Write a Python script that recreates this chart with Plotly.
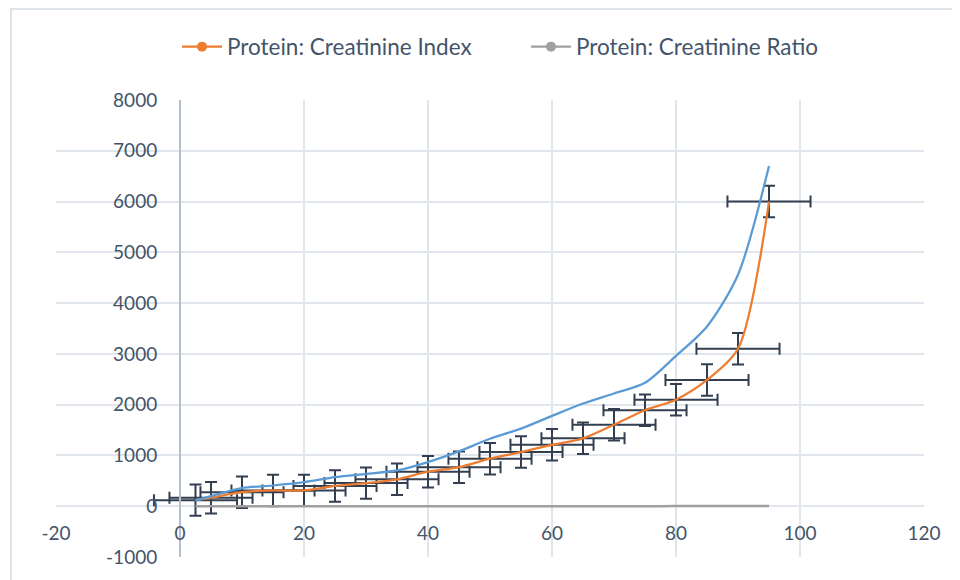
import plotly.graph_objects as go

# ---- data ----
percentile = [2.5, 5, 10, 15, 20, 25, 30, 35, 40, 45, 50, 55, 60, 65, 70, 75, 80, 85, 90, 95]
index_vals = [120, 168, 277, 310, 312, 400, 455, 530, 680, 768, 936, 1067, 1209, 1337, 1605, 1891, 2099, 2487, 3100, 6000]
blue_vals = [115, 200, 356, 408, 474, 573, 638, 705, 870, 1080, 1330, 1528, 1779, 2022, 2220, 2430, 2960, 3540, 4560, 6700]
ratio_vals = [0.12, 0.17, 0.28, 0.31, 0.31, 0.40, 0.46, 0.53, 0.68, 0.77, 0.94, 1.07, 1.21, 1.34, 1.61, 1.89, 2.10, 2.49, 3.10, 6.00]
x_err = 6.7
y_err = 310

x_tickvals = [-20, 0, 20, 40, 60, 80, 100, 120]
x_ticktext = ["-20", "0", "20", "40", "60", "80", "100", "120"]
y_tickvals = [-1000, 0, 1000, 2000, 3000, 4000, 5000, 6000, 7000, 8000]
y_ticktext = ["-1000", "0", "1000", "2000", "3000", "4000", "5000", "6000", "7000", "8000"]

ORANGE = "#ED7D31"
BLUE = "#5B9BD5"
GRAY = "#A0A0A0"
ERR = "#333F50"
TXT = "#44546A"
GRID = "#E1E5EC"
FONT = "Lato"

# plot area in figure pixels
L, R, T, B = 48, 916, 92, 549
W, H = R - L, B - T

fig = go.Figure()

fig.add_trace(go.Scatter(
    x=percentile, y=index_vals, mode="lines",
    line=dict(color=ORANGE, width=2.25, shape="spline", smoothing=0.8),
    error_x=dict(type="constant", value=x_err, color=ERR, thickness=2, width=6),
    error_y=dict(type="constant", value=y_err, color=ERR, thickness=2, width=6),
    showlegend=False, hoverinfo="skip",
))
fig.add_trace(go.Scatter(
    x=percentile, y=blue_vals, mode="lines",
    line=dict(color=BLUE, width=2.25, shape="spline", smoothing=0.8),
    showlegend=False, hoverinfo="skip",
))
fig.add_trace(go.Scatter(
    x=percentile, y=ratio_vals, mode="lines",
    line=dict(color=GRAY, width=2.5, shape="spline"),
    showlegend=False, hoverinfo="skip",
))
fig.add_trace(go.Scatter(
    x=[None], y=[None], mode="lines+markers", name="Protein: Creatinine Index",
    line=dict(color=ORANGE, width=2.25), marker=dict(color=ORANGE, size=10),
    legend="legend",
))
fig.add_trace(go.Scatter(
    x=[None], y=[None], mode="lines+markers", name="Protein: Creatinine Ratio",
    line=dict(color=GRAY, width=2.25), marker=dict(color=GRAY, size=10),
    legend="legend2",
))

fig.add_shape(type="rect", xref="paper", yref="paper",
              x0=(3 - L) / W, x1=(1000 - L) / W,
              y0=(B - 620) / H, y1=(B - 1) / H,
              line=dict(color="#DEE3EA", width=2), layer="below")

legend_common = dict(orientation="h", yanchor="middle", y=(B - 39) / H, xanchor="left",
                     font=dict(size=22.5, color=TXT), itemwidth=40, bgcolor="rgba(0,0,0,0)")

fig.update_layout(
    width=960, height=580,
    margin=dict(l=L, r=960 - R, t=T, b=580 - B),
    paper_bgcolor="white", plot_bgcolor="white",
    font=dict(family=FONT, color=TXT, size=19),
    legend=dict(x=(177 - 8 - L) / W, **legend_common),
    legend2=dict(x=(526 - 8 - L) / W, **legend_common),
    xaxis=dict(range=[-20, 120], tickvals=x_tickvals, ticktext=x_ticktext,
               showgrid=True, gridcolor=GRID, gridwidth=1.5, zeroline=False,
               showline=False, anchor="free", position=1 / 9,
               ticks="", ticklabelstandoff=14, tickfont=dict(size=19, color=TXT)),
    yaxis=dict(range=[-1000, 8000], tickvals=y_tickvals, ticktext=y_ticktext,
               showgrid=True, gridcolor=GRID, gridwidth=1.5, zeroline=False,
               showline=True, linecolor="#B4BFCF", linewidth=2,
               anchor="free", position=20 / 140,
               ticks="", ticklabelstandoff=18, tickfont=dict(size=19, color=TXT)),
)

fig.write_html("out.html")
